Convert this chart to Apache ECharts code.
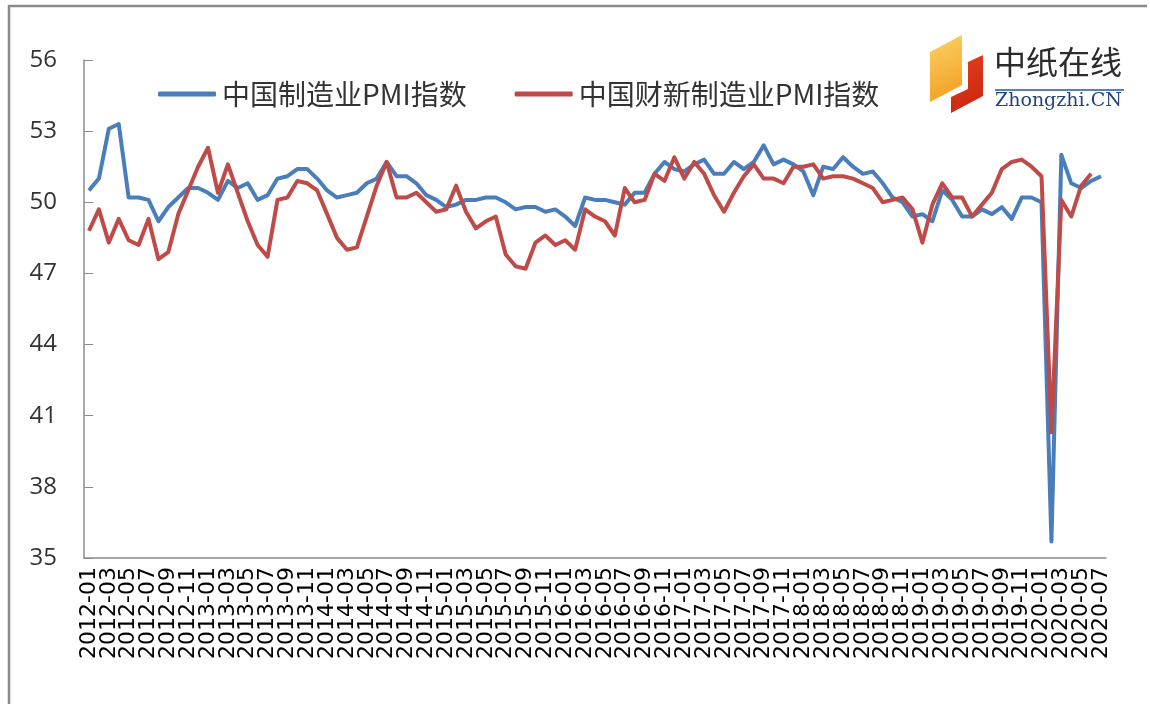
<!DOCTYPE html>
<html>
<head>
<meta charset="utf-8">
<script src="https://cdn.jsdelivr.net/npm/echarts@6/dist/echarts.min.js"></script>
<style>
html,body{margin:0;padding:0;background:#fff;}
#chart{width:1150px;height:704px;}
</style>
</head>
<body>
<div id="chart"></div>
<script>
// ---- data ----
const years = [2012, 2013, 2014, 2015, 2016, 2017, 2018, 2019, 2020];
const lastMonth2020 = 7;
const seriesNames = ['中国制造业PMI指数', '中国财新制造业PMI指数'];
const yTicks = [35, 38, 41, 44, 47, 50, 53, 56];

const pmiNBS = [
  50.5, 51.0, 53.1, 53.3, 50.2, 50.2, 50.1, 49.2, 49.8, 50.2, 50.6, 50.6,
  50.4, 50.1, 50.9, 50.6, 50.8, 50.1, 50.3, 51.0, 51.1, 51.4, 51.4, 51.0,
  50.5, 50.2, 50.3, 50.4, 50.8, 51.0, 51.7, 51.1, 51.1, 50.8, 50.3, 50.1,
  49.8, 49.9, 50.1, 50.1, 50.2, 50.2, 50.0, 49.7, 49.8, 49.8, 49.6, 49.7,
  49.4, 49.0, 50.2, 50.1, 50.1, 50.0, 49.9, 50.4, 50.4, 51.2, 51.7, 51.4,
  51.3, 51.6, 51.8, 51.2, 51.2, 51.7, 51.4, 51.7, 52.4, 51.6, 51.8, 51.6,
  51.3, 50.3, 51.5, 51.4, 51.9, 51.5, 51.2, 51.3, 50.8, 50.2, 50.0, 49.4,
  49.5, 49.2, 50.5, 50.1, 49.4, 49.4, 49.7, 49.5, 49.8, 49.3, 50.2, 50.2,
  50.0, 35.7, 52.0, 50.8, 50.6, 50.9, 51.1
];
const pmiCaixin = [
  48.8, 49.7, 48.3, 49.3, 48.4, 48.2, 49.3, 47.6, 47.9, 49.5, 50.5, 51.5,
  52.3, 50.4, 51.6, 50.4, 49.2, 48.2, 47.7, 50.1, 50.2, 50.9, 50.8, 50.5,
  49.5, 48.5, 48.0, 48.1, 49.4, 50.7, 51.7, 50.2, 50.2, 50.4, 50.0, 49.6,
  49.7, 50.7, 49.6, 48.9, 49.2, 49.4, 47.8, 47.3, 47.2, 48.3, 48.6, 48.2,
  48.4, 48.0, 49.7, 49.4, 49.2, 48.6, 50.6, 50.0, 50.1, 51.2, 50.9, 51.9,
  51.0, 51.7, 51.2, 50.3, 49.6, 50.4, 51.1, 51.6, 51.0, 51.0, 50.8, 51.5,
  51.5, 51.6, 51.0, 51.1, 51.1, 51.0, 50.8, 50.6, 50.0, 50.1, 50.2, 49.7,
  48.3, 49.9, 50.8, 50.2, 50.2, 49.4, 49.9, 50.4, 51.4, 51.7, 51.8, 51.5,
  51.1, 40.3, 50.1, 49.4, 50.7, 51.2
];

const categories = [];
years.forEach(y => {
  const n = (y === 2020) ? lastMonth2020 : 12;
  for (let m = 1; m <= n; m++) categories.push(y + '-' + (m < 10 ? '0' + m : m));
});

const blue = '#4a7ebb';
const red = '#be4b48';

const chart = echarts.init(document.getElementById('chart'));
chart.setOption({
  animation: false,
  backgroundColor: '#ffffff',
  grid: { left: 84, right: 44, top: 60, bottom: 146 },
  legend: {
    left: 153, top: 74,
    itemWidth: 58, itemHeight: 5, itemGap: 48,
    icon: 'roundRect',
    textStyle: { fontFamily: 'Noto Sans CJK SC', fontSize: 28, lineHeight: 30, color: '#333333', padding: [0, 0, 0, 1] },
    data: [
      { name: seriesNames[0], itemStyle: { color: blue } },
      { name: seriesNames[1], itemStyle: { color: red } }
    ]
  },
  xAxis: {
    type: 'category',
    data: categories,
    boundaryGap: true,
    axisLine: { lineStyle: { color: '#8c8c8c', width: 1.5 } },
    axisTick: { interval: 1, length: 6, lineStyle: { color: '#8c8c8c' } },
    axisLabel: {
      interval: 0, rotate: 90, margin: 9,
      formatter: (v, i) => (i % 2 === 0 ? v : ''),
      fontFamily: 'DejaVu Sans', fontSize: 22, color: '#000000'
    },
    splitLine: { show: false }
  },
  yAxis: {
    type: 'value',
    min: yTicks[0], max: yTicks[yTicks.length - 1], interval: 3,
    axisLine: { show: true, lineStyle: { color: '#8c8c8c', width: 1.5 } },
    axisTick: { show: true, inside: true, length: 9, lineStyle: { color: '#8c8c8c' } },
    axisLabel: { margin: 27, fontFamily: 'Open Sans', fontSize: 24, color: '#333333' },
    splitLine: { show: false }
  },
  series: [
    {
      name: seriesNames[0], type: 'line', data: pmiNBS,
      symbol: 'none', smooth: false,
      lineStyle: { color: blue, width: 4, join: 'round' },
      itemStyle: { color: blue }, z: 2
    },
    {
      name: seriesNames[1], type: 'line', data: pmiCaixin,
      symbol: 'none', smooth: false,
      lineStyle: { color: red, width: 4, join: 'round' },
      itemStyle: { color: red }, z: 3
    }
  ],
  graphic: [
    // outer frame
    { type: 'polyline', shape: { points: [[9, 704], [9, 6], [1147, 6]] },
      style: { stroke: '#8a8a8a', lineWidth: 2.5, fill: null }, silent: true },
    // logo
    { type: 'polygon', shape: { points: [[930, 52], [962, 35], [962, 85], [930, 102]] },
      style: { fill: new echarts.graphic.LinearGradient(0, 0, 1, 1, [
        { offset: 0, color: '#fbd36a' }, { offset: 1, color: '#f29a1a' }]) }, silent: true },
    { type: 'polygon', shape: { points: [[968, 62], [983, 55], [983, 96], [951, 113], [951, 97], [968, 89]] },
      style: { fill: new echarts.graphic.LinearGradient(0, 0, 1, 1, [
        { offset: 0, color: '#e8401c' }, { offset: 1, color: '#c42410' }]) }, silent: true },
    { type: 'text', left: 994, top: 46,
      style: { text: '中纸在线', fontFamily: 'Noto Sans CJK SC', fontSize: 32, fill: '#2b2b2b' }, silent: true },
    { type: 'line', shape: { x1: 995, y1: 90, x2: 1124, y2: 90 },
      style: { stroke: '#5d7fb8', lineWidth: 2 }, silent: true },
    { type: 'text', left: 995, top: 92,
      style: { text: 'Zhongzhi.CN', fontFamily: 'DejaVu Serif', fontSize: 19, fill: '#24447a' }, silent: true }
  ]
});
</script>
</body>
</html>
